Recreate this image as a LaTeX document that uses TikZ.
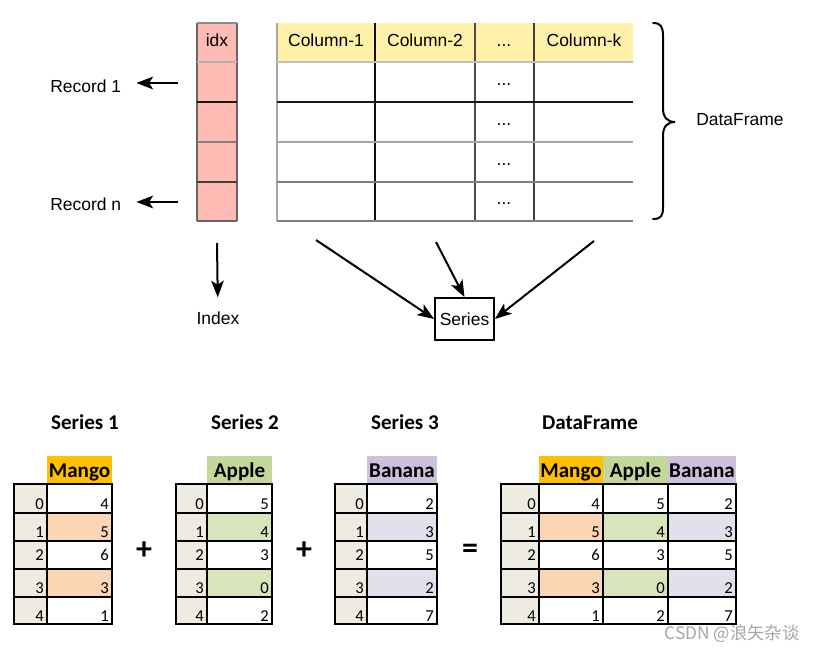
\documentclass[tikz,border=0pt]{standalone}
\usepackage{fontspec}
\setmainfont{Liberation Sans}
\newfontfamily\calfont{Carlito}
\newfontfamily\cjkfont{Noto Sans CJK SC}
\usetikzlibrary{arrows.meta}
\definecolor{idxpink}{HTML}{FFBCB4}
\definecolor{hdryel}{HTML}{FFF1A8}
\definecolor{ixbg}{HTML}{EEECE1}
\definecolor{mangoH}{HTML}{FFC000}
\definecolor{mangoL}{HTML}{FCD5B4}
\definecolor{appleH}{HTML}{C4D79B}
\definecolor{appleL}{HTML}{D8E4BC}
\definecolor{banH}{HTML}{CCC0DA}
\definecolor{banL}{HTML}{E4DFEC}
\tikzset{
  toptxt/.style={font=\fontsize{13.1}{15}\selectfont, inner sep=0pt},
  hdr/.style={font=\calfont\bfseries\fontsize{15.8}{18}\selectfont, inner sep=0pt, anchor=base},
  ttl/.style={font=\calfont\bfseries\fontsize{15.8}{18}\selectfont, inner sep=0pt, anchor=base},
  num/.style={font=\calfont\fontsize{12.5}{14}\selectfont, inner sep=0pt, anchor=east},
  opsym/.style={font=\calfont\bfseries\fontsize{24}{28}\selectfont, inner sep=0pt},
  cell/.style={draw=black, line width=1pt},
  arr/.style={line width=1.5pt, -{Stealth[length=12.5pt,width=9.5pt,inset=3pt]}},
  sbox/.style={draw, line width=1.3pt, minimum width=44.25pt, minimum height=31.5pt, inner sep=0pt, font=\fontsize{13.1}{15}\selectfont},
}
\newcommand{\idxcol}[3]{%
  \fill[ixbg] (#2,484) rectangle (#3,624);
  \foreach \i in {0,...,4} {
    \pgfmathsetmacro\yt{{484,513,541,569,597}[\i]}
    \pgfmathsetmacro\yb{{513,541,569,597,624}[\i]}
    \pgfmathsetmacro\yc{{504,532,555,588,616}[\i]}
    \draw[cell] (#2,\yt) rectangle (#3,\yb);
    \node[num] (#1i\i) at (#3-3,\yc) {\i};
  }
}
\newcommand{\valcol}[7]{%
  \fill[#4] (#2,456) rectangle (#3,484);
  \node[hdr] (#1h) at ({(#2+#3)/2},477.5) {#6};
  \foreach \v [count=\i from 0] in {#7} {
    \pgfmathsetmacro\yt{{484,513,541,569,597}[\i]}
    \pgfmathsetmacro\yb{{513,541,569,597,624}[\i]}
    \pgfmathsetmacro\yc{{504,532,555,588,616}[\i]}
    \ifodd\i \fill[#5] (#2,\yt) rectangle (#3,\yb); \fi
    \draw[cell] (#2,\yt) rectangle (#3,\yb);
    \node[num] (#1v\i) at (#3-3,\yc) {\v};
  }
}
\begin{document}
\begin{tikzpicture}[x=0.75pt,y=-0.75pt]
\useasboundingbox[fill=white] (0,0) rectangle (816,648);

% ---------- top: index column ----------
\fill[idxpink] (197,23) rectangle (237,221);
\draw[line width=0.8pt, black!60] (197,23) -- (197,221);
\draw[line width=0.8pt, black!60] (237,23) -- (237,221);
\draw[line width=0.8pt, black!45] (197,23) -- (237,23);
\draw[line width=0.8pt, black!30] (197,62) -- (237,62);
\draw[line width=0.8pt, black!90] (197,102) -- (237,102);
\draw[line width=0.8pt, black!50] (197,142) -- (237,142);
\draw[line width=0.8pt, black!75] (197,182) -- (237,182);
\draw[line width=0.8pt, black!60] (197,221) -- (237,221);
\node[toptxt, anchor=base] (idx) at (217,47) {idx};

% ---------- top: main table ----------
\fill[hdryel] (277,23) rectangle (633,62);
\draw[line width=0.8pt, black!35] (277,23) -- (277,221);
\draw[line width=0.8pt, black!95] (375,23) -- (375,221);
\draw[line width=0.8pt, black!70] (475,23) -- (475,221);
\draw[line width=0.8pt, black!75] (534,23) -- (534,221);
\draw[line width=0.8pt, black!25] (277,62) -- (633,62);
\draw[line width=0.8pt, black!90] (277,102) -- (633,102);
\draw[line width=0.8pt, black!35] (277,142) -- (633,142);
\draw[line width=0.8pt, black!50] (277,182) -- (633,182);
\draw[line width=0.8pt, black!50] (277,221) -- (633,221);
\node[toptxt, anchor=base] (col1) at (326,47) {Column-1};
\node[toptxt, anchor=base] (col2) at (425,47) {Column-2};
\node[toptxt, anchor=base] (cold) at (504,47) {...};
\node[toptxt, anchor=base] (colk) at (584,47) {Column-k};
\node[toptxt, anchor=base] (d1) at (504,86) {...};
\node[toptxt, anchor=base] (d2) at (504,126) {...};
\node[toptxt, anchor=base] (d3) at (504,166) {...};
\node[toptxt, anchor=base] (d4) at (504,205) {...};

% ---------- brace ----------
\draw[line width=1.5pt, line cap=round]
  (653,23) .. controls (661,23) and (663,27) .. (663,36) -- (663,108)
  .. controls (663,117) and (667,122) .. (675,122)
  .. controls (667,122) and (663,127) .. (663,136) -- (663,207)
  .. controls (663,216) and (661,219) .. (653,219);
\node[toptxt, anchor=base west] (dflbl) at (696,126) {DataFrame};

% ---------- records ----------
\node[toptxt, anchor=base west] (rec1) at (50,93) {Record 1};
\node[toptxt, anchor=base west] (recn) at (50,211) {Record n};
\coordinate (r1s) at (178,83);
\coordinate (rns) at (178,202);
\draw[arr, shorten >=11.25pt] (r1s) -- (r1s -| rec1.east);
\draw[arr, shorten >=11.25pt] (rns) -- (rns -| recn.east);

% ---------- index & series ----------
\node[toptxt] (idxlbl) at (218,318) {Index};
\coordinate (ia) at (217,243);
\draw[arr, shorten >=10.5pt] (ia) -- (idxlbl);
\node[sbox] (series) at (464.5,319) {Series};
\coordinate (sa) at (316,240);
\coordinate (sb) at (436,242);
\coordinate (sc) at (594,241);
\draw[arr] (sa) -- (series.west);
\draw[arr] (sb) -- (series.north);
\draw[arr] (sc) -- (series.east);

% ---------- bottom ----------
\node[ttl] (t1) at (85,429) {Series 1};
\node[ttl] (t2) at (245,429) {Series 2};
\node[ttl] (t3) at (405,429) {Series 3};
\node[ttl] (t4) at (590,429) {DataFrame};

\idxcol{a}{14}{47}
\valcol{am}{47}{112}{mangoH}{mangoL}{Mango}{4,5,6,3,1}

\idxcol{b}{176}{207}
\valcol{ba}{207}{272}{appleH}{appleL}{Apple}{5,4,3,0,2}

\idxcol{c}{335}{367}
\valcol{cb}{367}{437}{banH}{banL}{Banana}{2,3,5,2,7}

\idxcol{d}{501}{539}
\valcol{dm}{539}{603}{mangoH}{mangoL}{Mango}{4,5,6,3,1}
\valcol{da}{603}{668}{appleH}{appleL}{Apple}{5,4,3,0,2}
\valcol{db}{668}{736}{banH}{banL}{Banana}{2,3,5,2,7}

\node[opsym] (plus1) at (144,551) {+};
\node[opsym] (plus2) at (304,551) {+};
\node[opsym] (eq) at (470,551) {=};

\node[font=\cjkfont\fontsize{13}{15}\selectfont, text=black!35, inner sep=0pt] (wm) at (732,634) {CSDN @浪矢杂谈};
\end{tikzpicture}
\end{document}
